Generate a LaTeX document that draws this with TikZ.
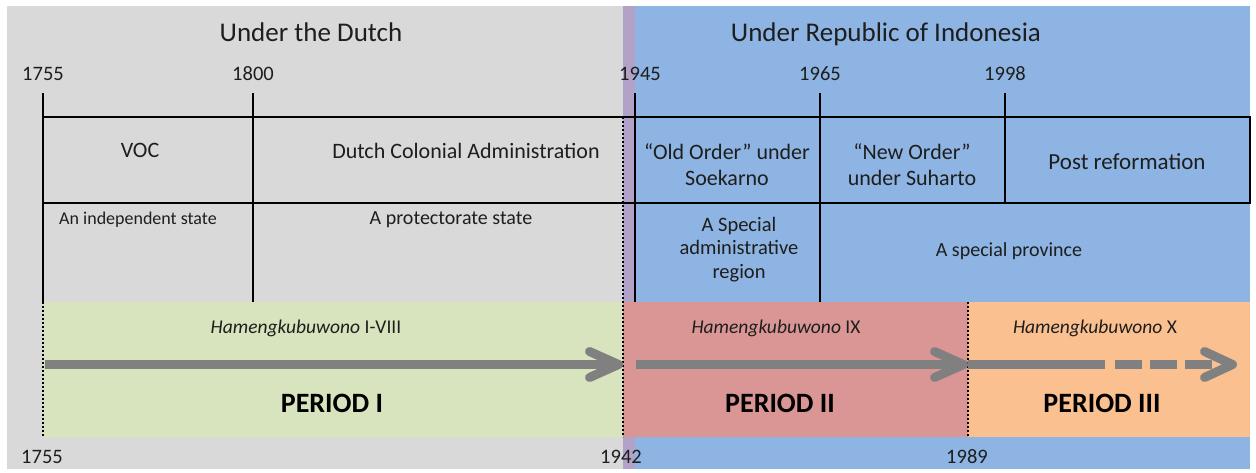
\documentclass[tikz,border=0pt]{standalone}
\usepackage{fontspec}
\setmainfont{Carlito}
\definecolor{bggray}{HTML}{D9D9D9}
\definecolor{bgblue}{HTML}{8DB4E2}
\definecolor{bgpurple}{HTML}{B3A2C7}
\definecolor{bandgreen}{HTML}{D7E4BD}
\definecolor{bandred}{HTML}{D99694}
\definecolor{bandorange}{HTML}{FAC090}
\definecolor{arrowgray}{HTML}{808080}
\definecolor{txt}{HTML}{1E1E1E}
\begin{document}
\begin{tikzpicture}[x=1pt,y=-1pt,
  tline/.style={line width=2.8pt,black},
  hline/.style={line width=2.2pt,black},
  dotline/.style={line width=2.6pt,black,dash pattern=on 2pt off 2pt},
  shaft/.style={line width=9pt,arrowgray},
  barb/.style={line width=9pt,arrowgray,line cap=round,line join=round},
  lbl/.style={anchor=base,inner sep=0pt,text=txt,align=center},
  title/.style={lbl,font=\fontsize{27}{30}\selectfont},
  yr/.style={lbl,font=\fontsize{20.5}{24}\selectfont},
  eratxt/.style={lbl,font=\fontsize{22}{26}\selectfont},
  statetxt/.style={lbl,font=\fontsize{20}{23.5}\selectfont},
  kingtxt/.style={lbl,font=\fontsize{19.5}{23}\selectfont},
  periodtxt/.style={lbl,font=\bfseries\fontsize{28}{32}\selectfont,text=black}]
\useasboundingbox (0,0) rectangle (1256,472);
\fill[white] (0,0) rectangle (1256,472);
% backgrounds
\fill[bggray] (7,6) rectangle (623,469);
\fill[bgpurple] (623,6) rectangle (635,469);
\fill[bgblue] (635,6) rectangle (1250,469);
% period bands
\fill[bandgreen] (43,302) rectangle (623,437);
\fill[bandred] (623,302) rectangle (968,437);
\fill[bandorange] (968,302) rectangle (1250,437);
% coordinates
\coordinate (v1t) at (43,93);   \coordinate (v1m) at (43,302);  \coordinate (v1b) at (43,437);
\coordinate (v2t) at (253,93);  \coordinate (v2b) at (253,302);
\coordinate (v3t) at (635,93);  \coordinate (v3b) at (635,302);
\coordinate (v4t) at (820,93);  \coordinate (v4b) at (820,302);
\coordinate (v5t) at (1005,93); \coordinate (v5b) at (1005,203);
\coordinate (h1l) at (43,117);  \coordinate (h1r) at (1250,117);
\coordinate (h2l) at (43,203);  \coordinate (h2r) at (1250,203);
\coordinate (d1t) at (623,117); \coordinate (d1b) at (623,437);
\coordinate (d2t) at (968,302); \coordinate (d2b) at (968,437);
% grid lines
\draw[tline] (v1t) -- (v1m);
\draw[dotline] (v1m) -- (v1b);
\draw[tline] (v2t) -- (v2b);
\draw[tline] (v3t) -- (v3b);
\draw[tline] (v4t) -- (v4b);
\draw[tline] (v5t) -- (v5b);
\draw[hline] (h1l) -- (h1r) -- (h2r) -- (h2l);
\draw[dotline] (d1t) -- (d1b);
\draw[dotline] (d2t) -- (d2b);
% arrows
\coordinate (a1s) at (45,364.5);   \coordinate (a1e) at (617,364.5);
\coordinate (a1u) at (589.5,351.5); \coordinate (a1t) at (618.5,364.5); \coordinate (a1d) at (589.5,377.5);
\coordinate (a2s) at (636,364.5);  \coordinate (a2e) at (962,364.5);
\coordinate (a2u) at (934.5,351.5); \coordinate (a2t) at (963.5,364.5); \coordinate (a2d) at (934.5,377.5);
\coordinate (a3s) at (968,364.5);  \coordinate (a3m) at (1105,364.5);
\coordinate (a3ds) at (1115,364.5); \coordinate (a3de) at (1212,364.5);
\coordinate (a3u) at (1204.5,351.5); \coordinate (a3t) at (1232.5,364.5); \coordinate (a3d) at (1204.5,377.5);
\draw[shaft] (a1s) -- (a1e);
\draw[barb] (a1u) -- (a1t) -- (a1d);
\draw[shaft] (a2s) -- (a2e);
\draw[barb] (a2u) -- (a2t) -- (a2d);
\draw[shaft] (a3s) -- (a3m);
\draw[shaft,dash pattern=on 27pt off 8pt] (a3ds) -- (a3de);
\draw[barb] (a3u) -- (a3t) -- (a3d);
% titles
\node[title] (tdutch) at (311,41) {Under the Dutch};
\node[title] (tindo) at (886,41) {Under Republic of Indonesia};
% years top
\node[yr] (y1755) at (43,80) {1755};
\node[yr] (y1800) at (253,80) {1800};
\node[yr] (y1945) at (640,80) {1945};
\node[yr] (y1965) at (820,80) {1965};
\node[yr] (y1998) at (1005,80) {1998};
% years bottom
\node[yr] (b1755) at (42,463) {1755};
\node[yr] (b1942) at (621,463) {1942};
\node[yr] (b1989) at (967,463) {1989};
% eras (multi-line nodes: base = baseline of last line)
\node[eratxt] (voc) at (140,157.5) {VOC};
\node[eratxt] (dca) at (466,158) {Dutch Colonial Administration};
\node[eratxt] (old) at (727,185) {“Old Order” under\\Soekarno};
\node[eratxt] (new) at (912,185) {“New Order”\\under Suharto};
\node[eratxt,font=\fontsize{23}{26}\selectfont] (post) at (1127,169) {Post reformation};
% states
\node[statetxt,font=\fontsize{18}{21}\selectfont] (indep) at (138,224) {An independent state};
\node[statetxt] (prot) at (451,224) {A protectorate state};
\node[statetxt,font=\fontsize{20.5}{23.5}\selectfont] (sar) at (739,278) {A Special\\administrative\\region};
\node[statetxt] (spec) at (1009,256) {A special province};
% kings
\node[kingtxt] (k1) at (306,333) {\textit{Hamengkubuwono} I-VIII};
\node[kingtxt] (k2) at (776,333) {\textit{Hamengkubuwono} IX};
\node[kingtxt] (k3) at (1095,333) {\textit{Hamengkubuwono} X};
% periods
\node[periodtxt] (p1) at (332,412) {PERIOD I};
\node[periodtxt] (p2) at (780,412) {PERIOD II};
\node[periodtxt] (p3) at (1102,412) {PERIOD III};
\end{tikzpicture}
\end{document}
